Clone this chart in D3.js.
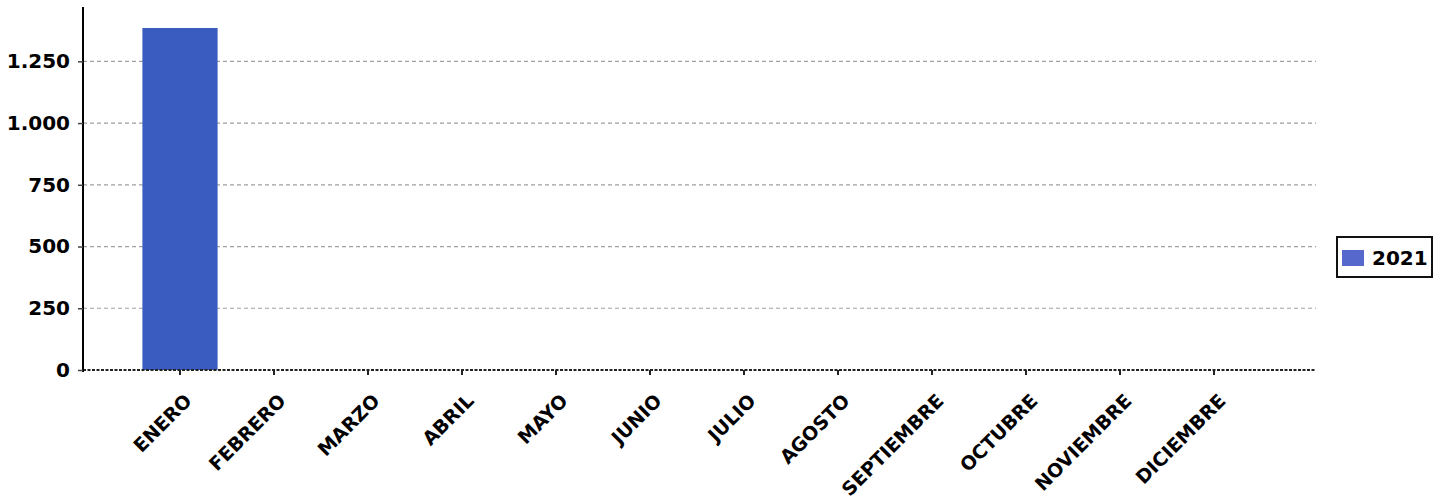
<!DOCTYPE html>
<html><head><meta charset="utf-8">
<script src="https://cdn.jsdelivr.net/npm/d3@7"></script>
<style>
html,body{margin:0;padding:0;background:#fff;}
svg text{font-family:"DejaVu Sans",sans-serif;font-weight:bold;fill:#000;}
</style></head>
<body>
<svg id="chart" width="1444" height="499"></svg>
<script>
const months = ["ENERO","FEBRERO","MARZO","ABRIL","MAYO","JUNIO","JULIO","AGOSTO","SEPTIEMBRE","OCTUBRE","NOVIEMBRE","DICIEMBRE"];
const values2021 = [1385,0,0,0,0,0,0,0,0,0,0,0];
const yTicks = [0,250,500,750,1000,1250];
const seriesName = "2021";

const svg = d3.select("#chart");
const axisX0 = 83, axisX1 = 1316;
const y = d3.scaleLinear().domain([0,1470]).range([370,7]);
const x = d3.scaleBand().domain(months).range([133,1261]).paddingInner(0.2).paddingOuter(0.1);
const fmt = v => d3.format(",")(v).replace(/,/g,".");

// grid
svg.append("g").selectAll("line").data(yTicks.filter(d=>d>0)).join("line")
  .attr("x1",axisX0).attr("x2",axisX1).attr("y1",d=>y(d)).attr("y2",d=>y(d))
  .attr("stroke","#a0a0a0").attr("stroke-width",1.2).attr("stroke-dasharray","4,3");

// bars
svg.append("g").selectAll("rect").data(months.map((m,i)=>({m,v:values2021[i]}))).join("rect")
  .attr("x",d=>x(d.m)).attr("width",x.bandwidth())
  .attr("y",d=>y(d.v)).attr("height",d=>y(0)-y(d.v))
  .attr("fill","#3a5bbf");

// zero line
svg.append("line").attr("x1",axisX0).attr("x2",axisX1).attr("y1",y(0)).attr("y2",y(0))
  .attr("stroke","#222").attr("stroke-width",2).attr("stroke-dasharray","3,1.5");

// y axis
const yAxis = svg.append("g").attr("transform",`translate(${axisX0},0)`)
  .call(d3.axisLeft(y).tickValues(yTicks).tickFormat(fmt).tickSize(5).tickPadding(8));
yAxis.select(".domain").attr("stroke","#000").attr("stroke-width",2).attr("d",`M0,${y(1470)}V${y(0)+2}`);
yAxis.selectAll(".tick line").attr("stroke","#444").attr("stroke-width",1.5);
yAxis.selectAll("text").style("font-size","20px").attr("fill","#000");

// x axis
const xAxis = svg.append("g").attr("transform",`translate(0,${y(0)})`)
  .call(d3.axisBottom(x).tickSize(5).tickPadding(0));
xAxis.select(".domain").remove();
xAxis.selectAll(".tick line").attr("stroke","#222").attr("stroke-width",2);
xAxis.selectAll("text").style("font-size","19px").attr("fill","#000")
  .attr("text-anchor","end").attr("dy",0).attr("y",0)
  .attr("transform","translate(13,32) rotate(-45)");

// legend
const lg = svg.append("g").attr("transform","translate(1337,237)");
lg.append("rect").attr("width",95).attr("height",40).attr("fill","#fff").attr("stroke","#111").attr("stroke-width",2);
lg.append("rect").attr("x",5).attr("y",13).attr("width",22).attr("height",16).attr("fill","#5668cc");
lg.append("text").attr("x",35).attr("y",28).style("font-size","20px").text(seriesName);
</script>
</body></html>
